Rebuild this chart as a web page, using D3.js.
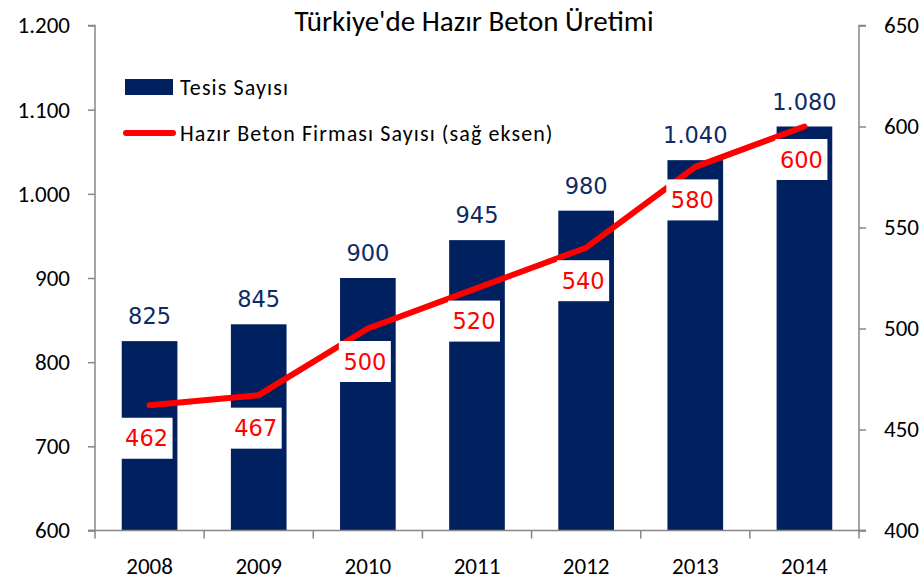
<!DOCTYPE html>
<html>
<head>
<meta charset="utf-8">
<script src="https://cdn.jsdelivr.net/npm/d3@7"></script>
<style>
  body { margin: 0; background: #fff; }
  text { font-family: Carlito, Lato, "Open Sans", sans-serif; }
</style>
</head>
<body>
<div id="chart"></div>
<script>
const years = ["2008", "2009", "2010", "2011", "2012", "2013", "2014"];
const tesisSayisi = [825, 845, 900, 945, 980, 1040, 1080];
const firmaSayisi = [462, 467, 500, 520, 540, 580, 600];
const leftTicks = [600, 700, 800, 900, 1000, 1100, 1200];
const rightTicks = [400, 450, 500, 550, 600, 650];
const seriesNames = ["Tesis Sayısı", "Hazır Beton Firması Sayısı (sağ eksen)"];
const chartTitle = "Türkiye'de Hazır Beton Üretimi";

const W = 922, H = 583;
const pLeft = 95, pRight = 859, pTop = 25.5, pBottom = 530.5;
const barColor = "#002060", lineColor = "#ff0000", axisColor = "#868686";

// dots as thousands separator
const fmt = d => d3.format(",")(d).replace(/,/g, ".");

const svg = d3.select("#chart").append("svg")
    .attr("width", W).attr("height", H);

const x = d3.scaleBand().domain(years).range([pLeft, pRight]).paddingInner(0.49).paddingOuter(0.245);
const xc = d3.scaleBand().domain(years).range([pLeft, pRight]); // category boundaries
const yL = d3.scaleLinear().domain([600, 1200]).range([pBottom, pTop]);
const yR = d3.scaleLinear().domain([400, 650]).range([pBottom, pTop]);

// title
svg.append("text")
    .attr("x", 474).attr("y", 31)
    .attr("text-anchor", "middle")
    .attr("font-size", 29)
    .attr("fill", "#000")
    .text(chartTitle);

// bars
svg.selectAll("rect.bar")
  .data(years)
  .join("rect")
    .attr("class", "bar")
    .attr("x", d => x(d))
    .attr("y", (d, i) => yL(tesisSayisi[i]))
    .attr("width", x.bandwidth())
    .attr("height", (d, i) => yL(600) - yL(tesisSayisi[i]))
    .attr("fill", barColor);

// bar labels
svg.selectAll("text.barlab")
  .data(years)
  .join("text")
    .attr("class", "barlab")
    .attr("x", d => x(d) + x.bandwidth() / 2)
    .attr("y", (d, i) => yL(tesisSayisi[i]) - 17)
    .attr("text-anchor", "middle")
    .style("font-family", "'DejaVu Sans', Verdana, sans-serif")
    .attr("font-size", 22.5)
    .attr("fill", "#102a63")
    .text((d, i) => fmt(tesisSayisi[i]));

// axes
const axL = svg.append("g")
    .attr("transform", `translate(${pLeft},0)`)
    .call(d3.axisLeft(yL).tickValues(leftTicks).tickFormat(fmt).tickSize(7).tickPadding(18));
const axR = svg.append("g")
    .attr("transform", `translate(${pRight},0)`)
    .call(d3.axisRight(yR).tickValues(rightTicks).tickSize(7).tickPadding(18));
const axB = svg.append("g")
    .attr("transform", `translate(0,${pBottom})`)
    .call(d3.axisBottom(xc).tickSize(0).tickPadding(27));

// category boundary ticks on x axis
svg.append("g").selectAll("line")
  .data(years.concat(["end"]))
  .join("line")
    .attr("x1", (d, i) => i < years.length ? xc(d) : pRight)
    .attr("x2", (d, i) => i < years.length ? xc(d) : pRight)
    .attr("y1", pBottom).attr("y2", pBottom + 8)
    .attr("stroke", axisColor).attr("stroke-width", 1.5);

[axL, axR, axB].forEach(g => {
  g.select(".domain").attr("stroke", axisColor).attr("stroke-width", 1.5);
  g.selectAll(".tick line").attr("stroke", axisColor).attr("stroke-width", 1.5);
  g.selectAll(".tick text").attr("font-size", 23).attr("fill", "#000")
    .style("font-family", "Carlito, Lato, sans-serif");
});
axL.select(".domain").attr("d", `M-7,${pTop}H0V${pBottom}H-7`);
axR.select(".domain").attr("d", `M7,${pTop}H0V${pBottom}H7`);
axB.select(".domain").attr("d", `M${pLeft - 7},0H${pRight + 7}`);
axR.selectAll(".tick text").attr("text-anchor", "start");

// line
const cx = d => x(d) + x.bandwidth() / 2;
svg.append("path")
    .datum(years)
    .attr("d", d3.line().x(d => cx(d)).y((d, i) => yR(firmaSayisi[i])))
    .attr("fill", "none")
    .attr("stroke", lineColor)
    .attr("stroke-width", 6)
    .attr("stroke-linecap", "round")
    .attr("stroke-linejoin", "round");

// line labels with white boxes
const lab = svg.append("g").selectAll("g")
  .data(years)
  .join("g")
    .attr("transform", (d, i) => `translate(${cx(d) - 3},${yR(firmaSayisi[i]) + 33})`);
lab.append("rect")
    .attr("x", -26).attr("y", -20.5)
    .attr("width", 52).attr("height", 41)
    .attr("fill", "#fff");
lab.append("text")
    .attr("text-anchor", "middle")
    .attr("dy", 8)
    .style("font-family", "'DejaVu Sans', Verdana, sans-serif")
    .attr("font-size", 22.5)
    .attr("fill", lineColor)
    .text((d, i) => firmaSayisi[i]);

// legend
const leg = svg.append("g");
leg.append("rect")
    .attr("x", 125).attr("y", 79).attr("width", 48).attr("height", 16)
    .attr("fill", barColor);
leg.append("line")
    .attr("x1", 126).attr("x2", 173).attr("y1", 133).attr("y2", 133)
    .attr("stroke", lineColor).attr("stroke-width", 6).attr("stroke-linecap", "round");
leg.selectAll("text")
  .data(seriesNames)
  .join("text")
    .attr("x", 180)
    .attr("y", (d, i) => 95 + i * 46)
    .attr("font-size", 22)
    .attr("letter-spacing", 1.1)
    .attr("fill", "#000")
    .text(d => d);
</script>
</body>
</html>
